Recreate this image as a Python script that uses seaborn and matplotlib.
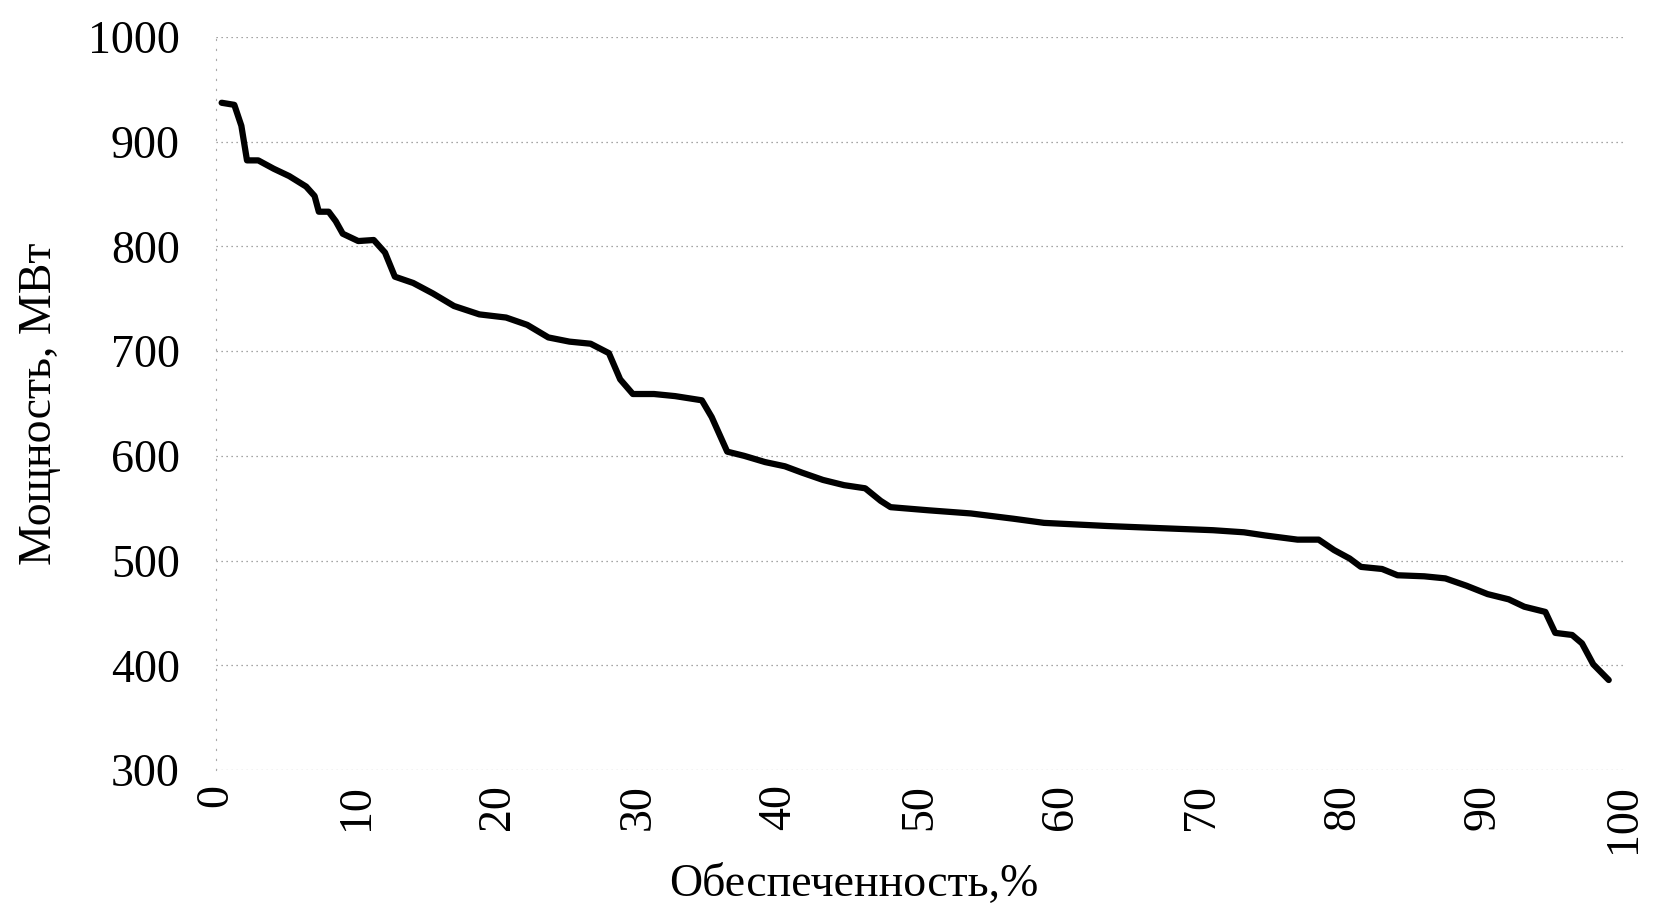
import pandas as pd
import numpy as np
import matplotlib
matplotlib.use("Agg")
import matplotlib.pyplot as plt
import seaborn as sns

# values
provision = [0.4, 1.3, 1.8, 2.2, 3.0, 4.1, 5.2, 6.4, 7.0, 7.3, 8.0, 8.5, 9.0, 10.1, 11.2,
             12.0, 12.7, 14.0, 15.4, 16.9, 18.7, 20.6, 22.1, 23.6, 25.1, 26.6, 27.9,
             28.7, 29.6, 31.1, 32.6, 34.5, 35.2, 36.3, 37.5, 39.0, 40.4, 41.6, 43.1,
             44.6, 46.1, 47.2, 47.9, 50.6, 53.6, 56.6, 58.8, 63.3, 67.0, 70.8, 73.0,
             74.5, 76.8, 78.3, 79.4, 80.5, 81.3, 82.8, 83.9, 85.8, 87.3, 88.8, 90.3,
             91.8, 92.9, 94.4, 95.1, 96.3, 97.0, 97.8, 98.9]
power = [937, 935, 915, 882, 882, 874, 867, 857, 848, 833, 833, 824, 812, 805, 806,
         794, 771, 765, 755, 743, 735, 732, 725, 713, 709, 707, 698,
         673, 659, 659, 657, 653, 637, 604, 600, 594, 590, 584, 577,
         572, 569, 557, 551, 548, 545, 540, 536, 533, 531, 529, 527,
         524, 520, 520, 510, 502, 494, 492, 486, 485, 483, 476, 468,
         463, 456, 451, 431, 429, 421, 401, 386]
x_ticks = list(range(0, 101, 10))
y_ticks = list(range(300, 1001, 100))

df = pd.DataFrame({"x": provision, "y": power})

sns.set_style("white")
plt.rcParams["font.family"] = ["Liberation Serif", "DejaVu Serif"]
plt.rcParams["text.color"] = "black"
plt.rcParams["axes.labelcolor"] = "black"
plt.rcParams["xtick.color"] = "black"
plt.rcParams["ytick.color"] = "black"

fig = plt.figure(figsize=(16.54, 9.19), dpi=100)
ax = fig.add_axes([0.1306, 0.162, 0.8514, 0.798])

sns.lineplot(data=df, x="x", y="y", ax=ax, color="black", linewidth=4.5)
for ln in ax.lines:
    ln.set_solid_joinstyle("round")
    ln.set_solid_capstyle("round")

ax.set_xlim(0, 100)
ax.set_ylim(300, 1000)
ax.set_xticks(x_ticks)
ax.set_yticks(y_ticks)
ax.set_xticklabels([str(t) for t in x_ticks], rotation=90, fontsize=33)
ax.set_yticklabels([str(t) for t in y_ticks], fontsize=33)
ax.tick_params(axis="y", length=0, pad=26)
ax.tick_params(axis="x", length=0, pad=10)

ax.grid(axis="y", color="#888888", linestyle=(0, (1, 3)), linewidth=0.9)
for s in ["top", "right", "bottom"]:
    ax.spines[s].set_visible(False)
ax.spines["left"].set_color("#aaaaaa")
ax.spines["left"].set_linestyle((0, (1, 8)))
ax.spines["left"].set_linewidth(0.8)

ax.set_xlabel("Обеспеченность,%", fontsize=33)
ax.set_ylabel("Мощность, МВт", fontsize=33)
ax.xaxis.set_label_coords(0.453, -0.127)
ax.yaxis.set_label_coords(-0.11, 0.5)

fig.savefig("out.png", dpi=100, facecolor="white")
